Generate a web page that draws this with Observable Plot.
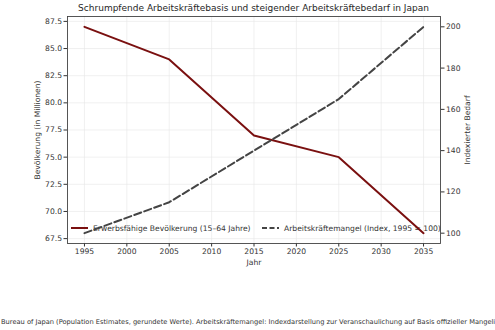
<!DOCTYPE html>
<html>
<head>
<meta charset="utf-8">
<script src="https://cdn.jsdelivr.net/npm/d3@7"></script>
<script src="https://cdn.jsdelivr.net/npm/@observablehq/plot@0.6"></script>
<style>
  html, body { margin: 0; padding: 0; background: #fff; }
  body { width: 495px; height: 330px; overflow: hidden; font-family: "DejaVu Sans", sans-serif; position: relative; }
  #title { height: 14px; line-height: 17px; text-align: center; font-size: 9px; color: #262626; padding-left: 12px; white-space: nowrap; }
  #caption { position: absolute; top: 318px; left: 0; white-space: nowrap; font-size: 6.67px; color: #333; }
</style>
</head>
<body>
<div id="title">Schrumpfende Arbeitskräftebasis und steigender Arbeitskräftebedarf in Japan</div>
<div id="chart"></div>
<div id="caption"><span id="capHead">Quelle: Statistics </span>Bureau of Japan (Population Estimates, gerundete Werte). Arbeitskräftemangel: Indexdarstellung zur Veranschaulichung auf Basis offizieller Mangelindikatoren.</div>
<script>
const years = [1995, 2005, 2015, 2025, 2035];
const population = [87, 84, 77, 75, 68];
const shortageIndex = [100, 115, 140, 165, 200];
const xTicks = [1995, 2000, 2005, 2010, 2015, 2020, 2025, 2030, 2035];
const leftTicks = [67.5, 70, 72.5, 75, 77.5, 80, 82.5, 85, 87.5];
const rightTicks = [100, 120, 140, 160, 180, 200];
const seriesNames = ["Erwerbsfähige Bevölkerung (15–64 Jahre)", "Arbeitskräftemangel (Index, 1995 = 100)"];

const popColor = "#7a1010";
const idxColor = "#444444";

const leftDomain = [67.05, 87.95];
const rightDomain = [95, 205];
const idx = d3.scaleLinear().domain(rightDomain).range(leftDomain);

const popData = years.map((y, i) => ({year: y, value: population[i]}));
const idxData = years.map((y, i) => ({year: y, value: idx(shortageIndex[i])}));

function legendMark(index, scales, values, dims) {
  const g = d3.create("svg:g").attr("text-anchor", "start");
  const y = dims.height - dims.marginBottom - 15;
  let x = dims.marginLeft + 4;
  const items = [
    {name: seriesNames[0], color: popColor, dash: null, w: 152},
    {name: seriesNames[1], color: idxColor, dash: "5,2.5", w: 0}
  ];
  items.forEach((it) => {
    g.append("line").attr("x1", x).attr("x2", x + 17).attr("y1", y).attr("y2", y)
      .attr("stroke", it.color).attr("stroke-width", 2).attr("stroke-dasharray", it.dash);
    g.append("text").attr("x", x + 22).attr("y", y).attr("dy", "0.35em")
      .attr("text-anchor", "start")
      .attr("font-size", 7.6).attr("fill", "#333").text(it.name);
    x += 22 + it.w + 17;
  });
  return g.node();
}

const chart = Plot.plot({
  width: 495,
  height: 256,
  marginLeft: 67,
  marginRight: 55,
  marginTop: 2,
  marginBottom: 27,
  style: {fontFamily: "DejaVu Sans, sans-serif", fontSize: "7.6px", color: "#333", background: "transparent", overflow: "visible"},
  x: {domain: [1993, 2037]},
  y: {domain: leftDomain},
  marks: [
    Plot.gridX(xTicks, {stroke: "#e6e6e6", strokeOpacity: 1, strokeWidth: 0.6}),
    Plot.gridY(leftTicks, {stroke: "#e6e6e6", strokeOpacity: 1, strokeWidth: 0.6}),
    legendMark,
    Plot.line(popData, {x: "year", y: "value", stroke: popColor, strokeWidth: 2}),
    Plot.line(idxData, {x: "year", y: "value", stroke: idxColor, strokeWidth: 2, strokeDasharray: "7.4,3.2"}),
    Plot.axisX(xTicks, {tickFormat: "d", tickSize: 3.5, tickPadding: 2, label: "Jahr", labelAnchor: "center", labelArrow: "none", labelOffset: 21}),
    Plot.axisY(leftTicks, {anchor: "left", tickFormat: d => d.toFixed(1), tickSize: 3.5, tickPadding: 2, label: null}),
    Plot.axisY(rightTicks.map(v => idx(v)), {anchor: "right", tickFormat: d => String(Math.round(idx.invert(d))), tickSize: 3.5, tickPadding: 2, label: null}),
    Plot.text(["Bevölkerung (in Millionen)"], {frameAnchor: "left", dx: -30, rotate: -90, textAnchor: "middle", fill: "#333", fontSize: 7.6}),
    Plot.text(["Indexierter Bedarf"], {frameAnchor: "right", dx: 27, rotate: -90, textAnchor: "middle", fill: "#333", fontSize: 7.6}),
    Plot.frame({stroke: "#444", strokeWidth: 0.9})
  ]
});
document.getElementById("chart").appendChild(chart);
const head = document.getElementById("capHead").getBoundingClientRect().width;
document.getElementById("caption").style.left = (1 - head) + "px";
</script>
</body>
</html>
